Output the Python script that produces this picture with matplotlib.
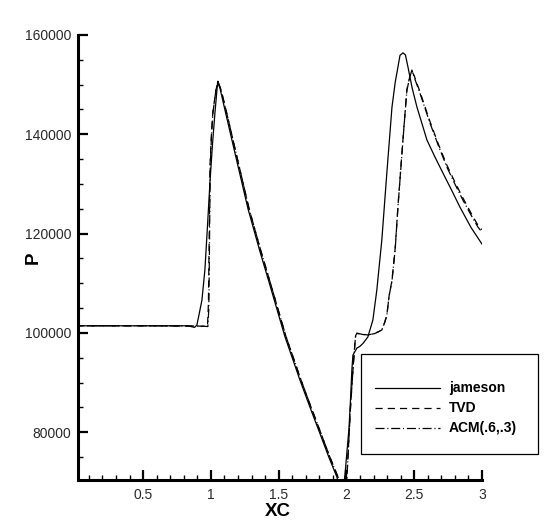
import matplotlib
matplotlib.use("Agg")
import matplotlib.pyplot as plt
from matplotlib.lines import Line2D
from matplotlib.patches import Rectangle
from matplotlib.ticker import MultipleLocator

plt.rcParams["font.family"] = ["Liberation Sans", "DejaVu Sans"]
plt.rcParams["lines.scale_dashes"] = False

# data
jameson_x = [0.0, 0.5, 0.83, 0.86, 0.88, 0.897, 0.915, 0.934, 0.956, 0.975,
             0.993, 1.012, 1.030, 1.050, 1.067, 1.12, 1.19, 1.274, 1.36, 1.436,
             1.546, 1.657, 1.73, 1.805, 1.87, 1.930, 1.955, 1.975, 1.991, 2.005,
             2.018, 2.030, 2.040, 2.048, 2.077, 2.099, 2.122, 2.158, 2.195, 2.224,
             2.261, 2.298, 2.336, 2.36, 2.380, 2.395, 2.417, 2.435, 2.454, 2.485,
             2.520, 2.594, 2.65, 2.712, 2.775, 2.837, 2.92, 3.0]
jameson_p = [101450, 101450, 101450, 101250, 101130, 101600, 104000, 106600, 112700, 121500,
             130200, 138000, 144300, 150500, 149300, 143000, 134800, 125000, 116600, 109600,
             99300, 90520, 85140, 79720, 75010, 70980, 68000, 67800, 72000, 76500,
             80450, 86500, 92500, 95550, 96950, 97300, 97900, 99200, 102600, 108600,
             118700, 132200, 145500, 150500, 153550, 155900, 156400, 156000, 153550, 149300,
             145500, 138850, 135600, 132200, 128800, 125360, 121200, 117900]

tvd_x = [0.0, 0.5, 0.9, 0.95, 0.975, 0.982, 0.988, 0.994, 1.005, 1.015,
         1.038, 1.052, 1.075, 1.128, 1.198, 1.282, 1.368, 1.444, 1.554, 1.665,
         1.738, 1.813, 1.878, 1.938, 1.965, 1.99, 2.0, 2.006, 2.03, 2.048,
         2.06, 2.068, 2.077, 2.12, 2.158, 2.21, 2.261, 2.283, 2.298, 2.315,
         2.336, 2.36, 2.380, 2.417, 2.446, 2.468, 2.483, 2.50, 2.542, 2.616,
         2.68, 2.741, 2.80, 2.859, 2.92, 2.970, 3.0]
tvd_p = [101450, 101450, 101400, 101350, 101300, 106000, 120000, 134000, 140500, 144500,
         149000, 150500, 149000, 143000, 134800, 125000, 116600, 109600, 99300, 90520,
         85140, 79720, 75010, 70980, 68500, 67600, 69500, 72500, 85000, 92500,
         97000, 99500, 99900, 99750, 99600, 99900, 100600, 102200, 103600, 107500,
         110600, 117200, 125500, 139000, 149000, 151700, 152700, 151800, 148600, 142600,
         137900, 133800, 130400, 127200, 124100, 121700, 120800]

acm_x = [0.0, 0.5, 0.9, 0.95, 0.978, 0.985, 0.99, 0.995, 1.005, 1.015,
         1.038, 1.052, 1.075, 1.128, 1.198, 1.282, 1.368, 1.444, 1.554, 1.665,
         1.738, 1.813, 1.878, 1.938, 1.96, 1.985, 1.997, 2.006, 2.03, 2.048,
         2.06, 2.068, 2.077, 2.12, 2.158, 2.21, 2.261, 2.283, 2.298, 2.315,
         2.336, 2.36, 2.380, 2.417, 2.446, 2.468, 2.483, 2.50, 2.542, 2.616,
         2.68, 2.741, 2.80, 2.859, 2.92, 2.970, 3.0]
acm_p = [101450, 101450, 101400, 101350, 101300, 105000, 118000, 133000, 140000, 144300,
         149000, 150700, 149000, 143000, 134800, 125000, 116600, 109600, 99300, 90520,
         85140, 79720, 75010, 70980, 68500, 67500, 69500, 72000, 85000, 92500,
         97000, 99600, 99980, 99700, 99580, 99900, 100590, 102200, 103500, 107500,
         110500, 117000, 125360, 138850, 148900, 151540, 152950, 151500, 148300, 142280,
         137600, 133400, 130000, 126770, 123700, 121330, 120300]

x_ticks = [0.5, 1, 1.5, 2, 2.5, 3]
x_ticklabels = ["0.5", "1", "1.5", "2", "2.5", "3"]
y_ticks = [80000, 100000, 120000, 140000, 160000]
y_ticklabels = ["80000", "100000", "120000", "140000", "160000"]
series_names = ["jameson", "TVD", "ACM(.6,.3)"]

W, H = 545, 532
fig = plt.figure(figsize=(W / 100, H / 100), dpi=100)
ax = fig.add_axes([78 / W, 1 - 479.5 / H, (482 - 78) / W, (479.5 - 35) / H])

lw = 0.9
dash_style = (0, (5.2, 3.6))
dashdot_style = (0, (6.5, 2.0, 0.8, 2.0))
ax.plot(jameson_x, jameson_p, color="black", lw=lw, ls="-")
ax.plot(tvd_x, tvd_p, color="black", lw=lw, ls=dash_style)
ax.plot(acm_x, acm_p, color="black", lw=lw, ls=dashdot_style)

ax.set_xlim(0.02, 3.0)
ax.set_ylim(70500, 160000)

# 坐标轴样式
for side in ["top", "right"]:
    ax.spines[side].set_visible(False)
for side in ["left", "bottom"]:
    ax.spines[side].set_linewidth(2.2)

ax.set_xticks(x_ticks)
ax.set_xticklabels(x_ticklabels)
ax.set_yticks(y_ticks)
ax.set_yticklabels(y_ticklabels)
ax.xaxis.set_minor_locator(MultipleLocator(0.1))
ax.yaxis.set_minor_locator(MultipleLocator(5000))
ax.tick_params(which="major", direction="in", length=7, width=1.6,
               labelsize=10, labelcolor="#2a2a2a")
ax.tick_params(which="minor", direction="in", length=3.5, width=1.0)
ax.tick_params(axis="x", which="major", pad=6)
ax.tick_params(axis="y", which="major", pad=5)

fig.text(278 / W, 1 - 511 / H, "XC", ha="center", va="center",
         fontsize=13.5, fontweight="bold")
fig.text(33 / W, 1 - 258 / H, "P", ha="center", va="center",
         fontsize=13.5, fontweight="bold", rotation=90)

# 手动绘制图例框
fig.patches.append(Rectangle((361 / W, 1 - 454 / H), 177 / W, 100 / H,
                             transform=fig.transFigure, facecolor="white",
                             edgecolor="black", lw=0.9, zorder=5))
styles = ["-", dash_style, dashdot_style]
rows = [388, 408, 428]
for name, ls, py in zip(series_names, styles, rows):
    fig.lines.append(Line2D([375 / W, 440 / W], [1 - py / H, 1 - py / H],
                            transform=fig.transFigure, color="black", lw=lw,
                            ls=ls, zorder=6))
    fig.text(449 / W, 1 - py / H, name, ha="left", va="center",
             fontsize=10, fontweight="bold", zorder=7)

fig.savefig("out.png", dpi=100)
